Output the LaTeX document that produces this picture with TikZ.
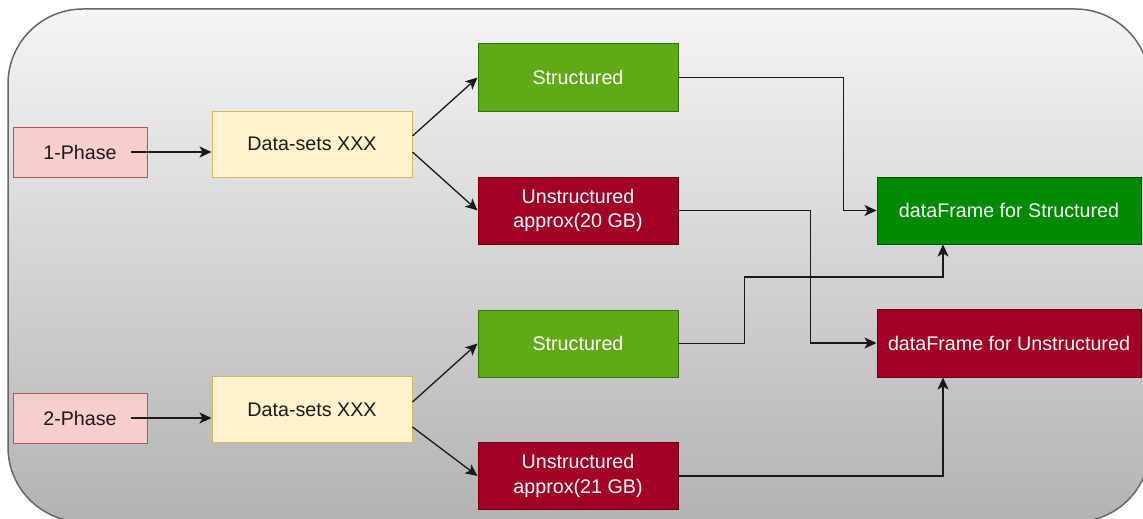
\documentclass[tikz,border=0pt]{standalone}
\usepackage{fontspec}
\setmainfont{Liberation Sans}
\usetikzlibrary{arrows.meta,calc}

\definecolor{phasefill}{HTML}{F8CECC}
\definecolor{phaseline}{HTML}{B85450}
\definecolor{setfill}{HTML}{FFF2CC}
\definecolor{setline}{HTML}{D6B656}
\definecolor{lgreen}{HTML}{60A917}
\definecolor{lgreenline}{HTML}{2D7600}
\definecolor{dgreen}{HTML}{008A00}
\definecolor{dgreenline}{HTML}{005700}
\definecolor{crimson}{HTML}{A20025}
\definecolor{crimsonline}{HTML}{6F0000}
\definecolor{panelline}{HTML}{666666}
\definecolor{inktext}{HTML}{1A1A1A}

\tikzset{
  base/.style={rectangle, inner sep=0pt, line width=1pt, align=center,
    font=\fontsize{19.7}{24.5}\selectfont},
  phasebox/.style={base, fill=phasefill, draw=phaseline, text=inktext,
    minimum width=134pt, minimum height=50pt},
  setbox/.style={base, fill=setfill, draw=setline, text=inktext,
    minimum width=200pt, minimum height=66pt},
  structbox/.style={base, fill=lgreen, draw=lgreenline, text=white,
    minimum width=200pt, minimum height=67pt},
  unstructbox/.style={base, fill=crimson, draw=crimsonline, text=white,
    minimum width=200pt, minimum height=67pt},
  dfsbox/.style={base, fill=dgreen, draw=dgreenline, text=white,
    minimum width=264pt, minimum height=67pt},
  dfubox/.style={base, fill=crimson, draw=crimsonline, text=white,
    minimum width=264pt, minimum height=68pt},
  arr/.style={line width=1.3pt, draw=black!90,
    -{Stealth[length=12pt,width=11pt,inset=3pt]}},
}

\begin{document}
\begin{tikzpicture}[x=1pt,y=-1pt]
  \useasboundingbox (0,0) rectangle (1143,519);
  \clip (0,0) rectangle (1143,519);

  % rounded gradient panel behind everything
  \draw[line width=1.5pt, draw=panelline, rounded corners=75pt,
        top color=black!4, bottom color=black!30]
    (8,9) rectangle (1150,522);

  % phase 1
  \node[phasebox] (p1) at (80,152) {1-Phase};
  \node[setbox] (d1) at (312,144) {Data-sets XXX};
  \node[structbox] (s1) at (578,77.5) {Structured};
  \node[unstructbox] (u1) at (578,210.5) {Unstructured\\approx(20 GB)};

  % phase 2
  \node[phasebox] (p2) at (80,418) {2-Phase};
  \node[setbox] (d2) at (312,409.5) {Data-sets XXX};
  \node[structbox] (s2) at (578,343.5) {Structured};
  \node[unstructbox] (u2) at (578,476) {Unstructured\\approx(21 GB)};

  % data frames
  \node[dfsbox] (dfs) at (1009,210.5) {dataFrame for Structured};
  \node[dfubox] (dfu) at (1009,343) {dataFrame for Unstructured};

  % connectors
  \draw[arr] ([xshift=-17pt]p1.east) -- (p1.east -| d1.west);
  \draw[arr] ([yshift=8pt]d1.east) -- (s1.west);
  \draw[arr] ([yshift=-8pt]d1.east) -- (u1.west);

  \draw[arr] ([xshift=-17pt]p2.east) -- (p2.east -| d2.west);
  \draw[arr] ([yshift=7.5pt]d2.east) -- (s2.west);
  \draw[arr] ([yshift=-17.5pt]d2.east) -- (u2.west);

  \draw[arr] (s1.east) -- ++(165,0) |- (dfs.west);
  \draw[arr] (u1.east) -- ++(132,0) |- (dfu.west);
  \draw[arr] (s2.east) -- ++(66,0) -- ++(0,-66.5) -| ([xshift=-66pt]dfs.south);
  \draw[arr] (u2.east) -| ([xshift=-66pt]dfu.south);
\end{tikzpicture}
\end{document}
